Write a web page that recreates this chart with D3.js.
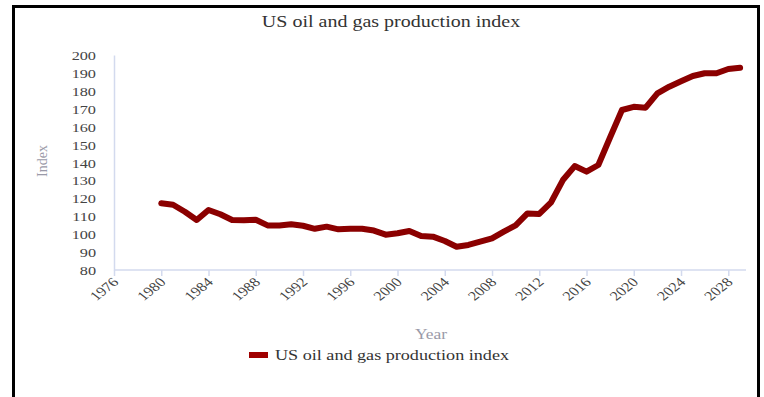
<!DOCTYPE html>
<html>
<head>
<meta charset="utf-8">
<script src="https://cdn.jsdelivr.net/npm/d3@7"></script>
<style>
  html, body { margin: 0; padding: 0; background: #fff; }
  svg { display: block; }
</style>
</head>
<body>
<svg id="chart" width="764" height="397"></svg>
<script>
const title = "US oil and gas production index";
const seriesName = "US oil and gas production index";
const xAxisTitle = "Year";
const yAxisTitle = "Index";
const years = [1980,1981,1982,1983,1984,1985,1986,1987,1988,1989,1990,1991,1992,1993,1994,1995,1996,1997,1998,1999,2000,2001,2002,2003,2004,2005,2006,2007,2008,2009,2010,2011,2012,2013,2014,2015,2016,2017,2018,2019,2020,2021,2022,2023,2024,2025,2026,2027,2028,2029];
const values = [117.2,116.4,112.5,107.9,113.5,111.1,107.9,107.7,108.0,104.9,104.9,105.5,104.7,103.0,104.2,102.7,103.0,103.0,102.0,99.7,100.5,101.8,99.0,98.6,96.2,93.0,94.0,95.8,97.7,101.4,104.9,111.6,111.3,117.8,130.2,138.0,134.9,138.6,154.1,169.3,171.1,170.6,178.6,182.3,185.3,188.3,189.8,189.8,192.2,192.9];
const xTicks = [1976,1980,1984,1988,1992,1996,2000,2004,2008,2012,2016,2020,2024,2028];
const yTicks = [80,90,100,110,120,130,140,150,160,170,180,190,200];

const SX = 1.25; // horizontal stretch of text in the reference
const FONT = "'Liberation Serif', 'Times New Roman', 'DejaVu Serif', serif";
const svg = d3.select("#chart");

// frame
svg.append("path")
  .attr("d", "M13.5,400 L13.5,6.5 L758.5,6.5 L758.5,400")
  .attr("fill", "none").attr("stroke", "#000").attr("stroke-width", 3);

const x = d3.scaleLinear().domain([1976, 2029.5]).range([114, 746]);
const y = d3.scaleLinear().domain([80, 200]).range([270, 55]);
const axisColor = "#d3daee";

// title
svg.append("text")
  .attr("transform", `translate(391,27) scale(${SX},1)`)
  .attr("text-anchor", "middle").attr("font-size", 16).attr("fill", "#333")
  .style("font-family", FONT)
  .text(title);

// y axis
const gy = svg.append("g").attr("transform", "translate(114,0)")
  .call(d3.axisLeft(y).tickValues(yTicks).tickSize(0).tickPadding(0).tickFormat(d3.format("d")));
gy.attr("font-family", null);
gy.select(".domain").attr("stroke", axisColor).attr("stroke-width", 1.5);
gy.selectAll(".tick text")
  .attr("x", null).attr("dy", null)
  .attr("text-anchor", "end").attr("fill", "#444").attr("font-size", 13)
  .style("font-family", FONT)
  .attr("transform", `translate(-18,4.5) scale(${SX},1)`);

// x axis
const gx = svg.append("g").attr("transform", "translate(0,270)")
  .call(d3.axisBottom(x).tickValues(xTicks).tickSize(6).tickPadding(0).tickFormat(d3.format("d")));
gx.attr("font-family", null);
gx.select(".domain").attr("stroke", axisColor).attr("stroke-width", 1.5).attr("d", "M114,0H746");
gx.selectAll(".tick line").attr("stroke", axisColor).attr("stroke-width", 1.5);
gx.selectAll(".tick text")
  .attr("y", null).attr("dy", null)
  .attr("text-anchor", "end").attr("fill", "#444").attr("font-size", 13)
  .style("font-family", FONT)
  .attr("transform", `translate(5,13) scale(${SX},1) rotate(-45)`);

// axis titles
svg.append("text")
  .attr("transform", "translate(47,161) rotate(-90)")
  .attr("text-anchor", "middle").attr("font-size", 14).attr("fill", "#9a9aa8")
  .style("font-family", FONT)
  .text(yAxisTitle);
svg.append("text")
  .attr("transform", `translate(431,339) scale(${SX},1)`)
  .attr("text-anchor", "middle").attr("font-size", 14).attr("fill", "#9a9aa8")
  .style("font-family", FONT)
  .text(xAxisTitle);

// line
const line = d3.line().x((d, i) => x(years[i])).y(d => y(d));
svg.append("path").datum(values)
  .attr("d", line).attr("fill", "none")
  .attr("stroke", "#8b0000").attr("stroke-width", 6)
  .attr("stroke-linejoin", "round").attr("stroke-linecap", "round");

// legend
svg.append("rect").attr("x", 249).attr("y", 352).attr("width", 19).attr("height", 6).attr("fill", "#a00000");
svg.append("text")
  .attr("transform", `translate(275,360) scale(${SX},1)`)
  .attr("font-size", 14.5).attr("fill", "#333")
  .style("font-family", FONT)
  .text(seriesName);
</script>
</body>
</html>
